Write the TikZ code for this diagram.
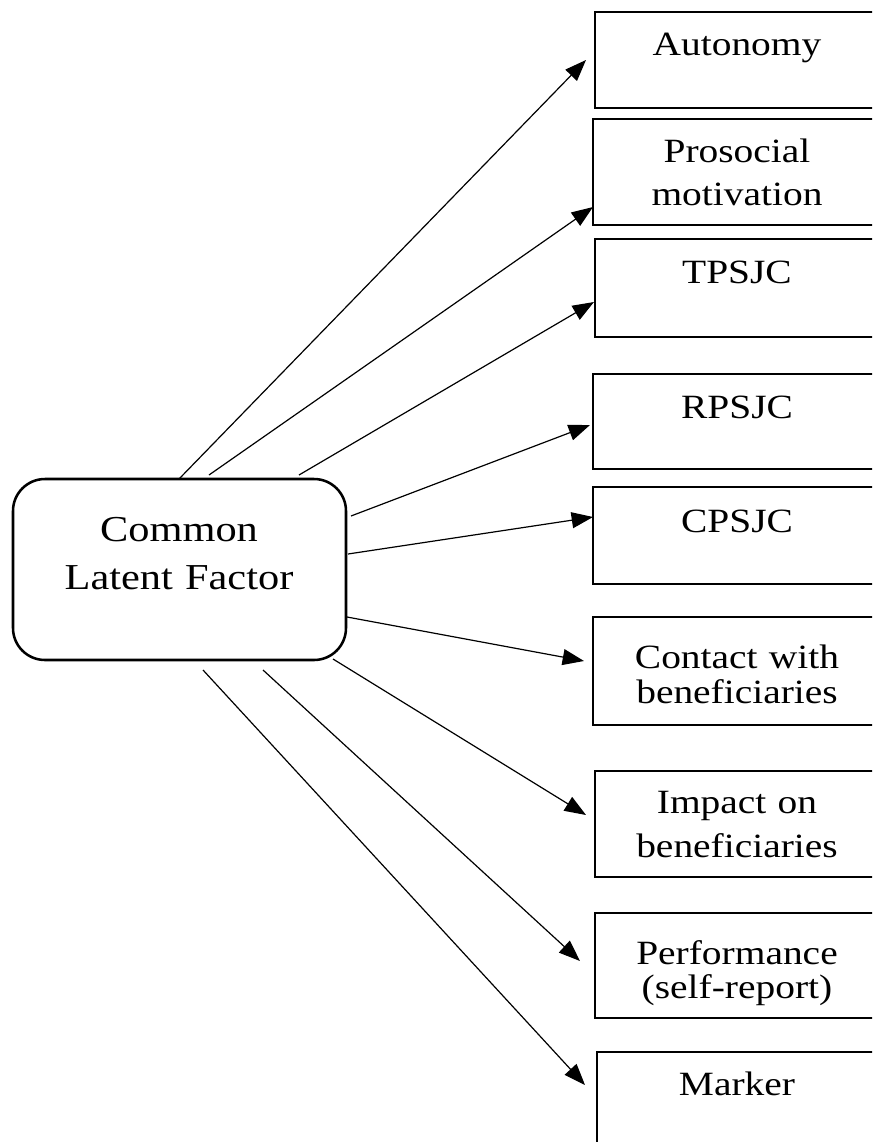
\documentclass[tikz,border=0pt]{standalone}
\usepackage{fontspec}
\setmainfont{Liberation Serif}[FakeStretch=1.16]
\usetikzlibrary{arrows.meta}
\begin{document}
\begin{tikzpicture}[x=0.75pt,y=-0.75pt,
  item/.style={draw, line width=1.5pt, minimum width={292*0.75pt},
    anchor=north west, inner sep=0pt, outer sep=0pt},
  itemtext/.style={anchor=base, text width={270*0.75pt}, align=center,
    inner sep=0pt, font=\fontsize{25.5pt}{#1}\selectfont},
  itemtext/.default=32pt,
  factor/.style={draw, line width=1.9pt, rounded corners=24pt,
    minimum width={333*0.75pt}, minimum height={181*0.75pt},
    anchor=north west, inner sep=0pt, outer sep=0pt},
  factortext/.style={anchor=base, text width={300*0.75pt}, align=center,
    inner sep=0pt, font=\fontsize{27.4pt}{36pt}\selectfont},
  load/.style={line width=0.9pt, -{Triangle[length=16pt,width=12pt]}}
]
\useasboundingbox (0,0) rectangle (872,1142);
\fill[white] (0,0) rectangle (872,1142);
\clip (0,0) rectangle (872,1142);

% indicator boxes on the right (they run past the right edge)
\node[item, minimum height={96*0.75pt}]  (autonomy)  at (595,12)   {};
\node[item, minimum height={106*0.75pt}] (prosocial) at (593,119)  {};
\node[item, minimum height={98*0.75pt}]  (tpsjc)     at (595,239)  {};
\node[item, minimum height={95*0.75pt}]  (rpsjc)     at (593,374)  {};
\node[item, minimum height={97*0.75pt}]  (cpsjc)     at (593,487)  {};
\node[item, minimum height={108*0.75pt}] (contact)   at (593,617)  {};
\node[item, minimum height={106*0.75pt}] (impact)    at (595,771)  {};
\node[item, minimum height={105*0.75pt}] (perf)      at (595,913)  {};
\node[item, minimum height={120*0.75pt}] (marker)    at (597,1052) {};

\node[itemtext]          (autonomyT)  at (737,55)   {Autonomy};
\node[itemtext=32.25pt]  (prosocialT) at (737,162)  {Prosocial\\motivation};
\node[itemtext]          (tpsjcT)     at (737,283)  {TPSJC};
\node[itemtext]          (rpsjcT)     at (737,418)  {RPSJC};
\node[itemtext]          (cpsjcT)     at (737,532)  {CPSJC};
\node[itemtext=26.25pt]  (contactT)   at (737,668)  {Contact with\\beneficiaries};
\node[itemtext=33pt]     (impactT)    at (737,813)  {Impact on\\beneficiaries};
\node[itemtext=25.5pt]   (perfT)      at (737,964)  {Performance\\(self-report)};
\node[itemtext]          (markerT)    at (737,1095) {Marker};

% the common latent factor
\node[factor] (clf) at (13,479) {};
\node[factortext] (clfT) at (179,541) {Common\\Latent Factor};

% start points on the factor box
\coordinate (s1) at (179,479);
\coordinate (s2) at (209,475);
\coordinate (s3) at (299,475);
\coordinate (s4) at (351,516);
\coordinate (s5) at (348,554);
\coordinate (s6) at (347,617);
\coordinate (s7) at (333,659);
\coordinate (s8) at (263,670);
\coordinate (s9) at (203,670);

% arrow tips beside the indicator boxes
\coordinate (t1) at (586,60);
\coordinate (t2) at (593,207);
\coordinate (t3) at (594,302);
\coordinate (t4) at (590,425);
\coordinate (t5) at (593,517);
\coordinate (t6) at (584,661);
\coordinate (t7) at (586,815);
\coordinate (t8) at (580,961);
\coordinate (t9) at (585,1085);

\foreach \i in {1,...,9}{
  \draw[load] (s\i) -- (t\i);
}
\end{tikzpicture}
\end{document}
